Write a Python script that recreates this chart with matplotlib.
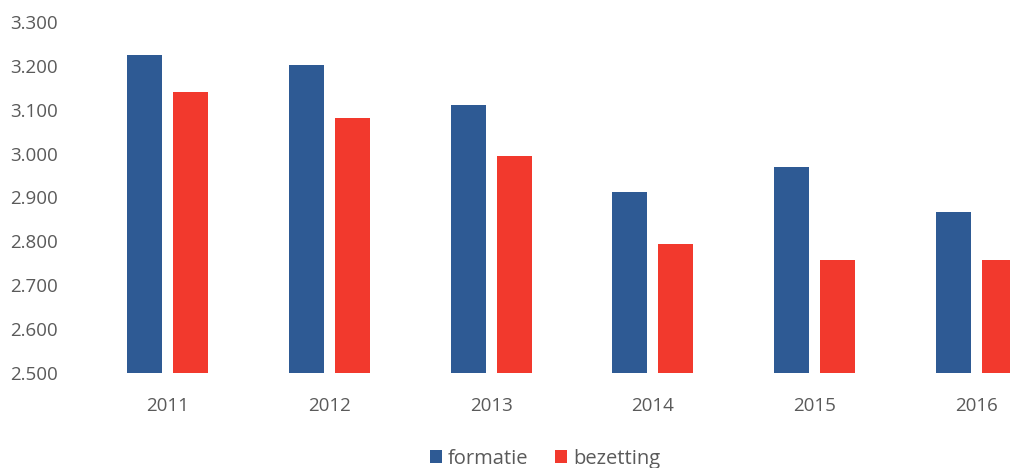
import matplotlib.pyplot as plt
import numpy as np

years = ['2011', '2012', '2013', '2014', '2015', '2016']
formatie = [3225, 3202, 3110, 2913, 2970, 2867]
bezetting = [3140, 3082, 2995, 2795, 2757, 2758]
yticks = [2500, 2600, 2700, 2800, 2900, 3000, 3100, 3200, 3300]

blue = '#2E5A94'
red = '#F2392D'
grey = '#5A5A5A'

plt.rcParams['font.family'] = ['Open Sans', 'DejaVu Sans']

fig = plt.figure(figsize=(10.10, 4.68), dpi=100)
# the source picture is cropped on the right, so the axes runs past the figure edge
ax = fig.add_axes([87 / 1010, 1 - 373 / 468, 970 / 1010, (373 - 22) / 468])

x = np.arange(len(years))
w = 0.217
off = 0.142
ax.bar(x - off, [v - 2500 for v in formatie], w, bottom=2500, color=blue, label='formatie')
ax.bar(x + off, [v - 2500 for v in bezetting], w, bottom=2500, color=red, label='bezetting')

ax.set_xlim(-0.5, len(years) - 0.5)
ax.set_ylim(2500, 3300)
ax.set_yticks(yticks)
ax.set_yticklabels([f'{t:,}'.replace(',', '.') for t in yticks])
ax.set_xticks(x)
ax.set_xticklabels(years)
ax.tick_params(axis='both', length=0, labelsize=13.5, colors=grey)
ax.tick_params(axis='y', pad=21)
ax.tick_params(axis='x', pad=17)
for s in ax.spines.values():
    s.set_visible(False)

fig.legend(loc='lower center', bbox_to_anchor=(545 / 1010, -0.04), ncol=2, frameon=False,
           fontsize=14.5, labelcolor=grey, handlelength=0.6, handleheight=0.6,
           handletextpad=0.3, columnspacing=1.3)

fig.savefig('out.png', dpi=100)
